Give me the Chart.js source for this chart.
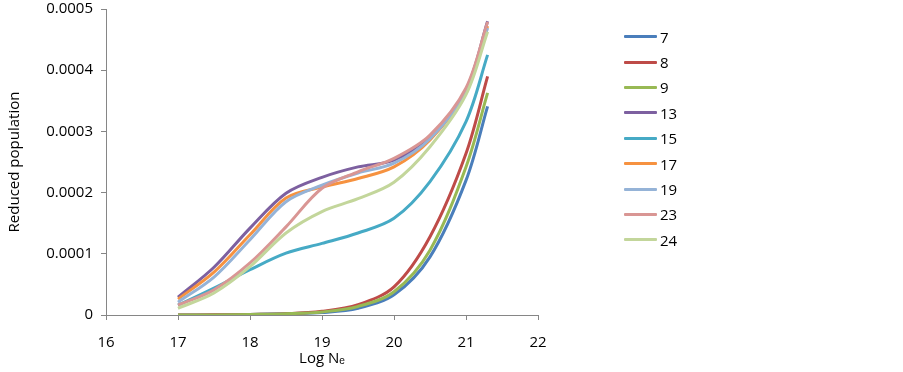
<!DOCTYPE html>
<html lang="en">
<head>
  <meta charset="UTF-8" />
  <title>Reduced population vs Log Ne</title>
  <style>
    body { margin: 0; background: #fff; font-family: "Open Sans", sans-serif; }
    #wrap { position: relative; width: 903px; height: 372px; }
    canvas { position: absolute; left: 0; top: 0; }
    #legend { position: absolute; left: 624px; top: 24px; }
    .item { height: 25.4px; display: flex; align-items: center; font-size: 15px; color: #000; }
    .swatch { width: 33px; height: 3px; margin-right: 3px; border-radius: 1px; }
  </style>
</head>
<body>
  <div id="wrap">
    <canvas id="chart" width="903" height="372"></canvas>
    <div id="legend"></div>
  </div>

  <script src="https://cdn.jsdelivr.net/npm/chart.js"></script>
  <script>
    const logNe = [17, 17.5, 18, 18.5, 19, 19.5, 20, 20.5, 21, 21.3];

    const names = ['7', '8', '9', '13', '15', '17', '19', '23', '24'];
    const colors = ['#4A7EBB', '#BE4B48', '#98B954', '#7D60A0', '#46AAC5', '#F69240', '#95B3D7', '#D99694', '#C3D69B'];

    const s7  = [0, 0, 0.000001, 0.000002, 0.000004, 0.000011, 0.000033, 0.000095, 0.00022, 0.000341];
    const s8  = [0, 0.0000003, 0.000001, 0.000002, 0.000006, 0.000017, 0.000046, 0.000128, 0.000264, 0.00039];
    const s9  = [0, 0.0000002, 0.000001, 0.000002, 0.000005, 0.000014, 0.000038, 0.000106, 0.000242, 0.000363];
    const s13 = [0.000029, 0.000078, 0.000142, 0.000199, 0.000225, 0.000242, 0.000253, 0.000291, 0.000368, 0.00048];
    const s15 = [0.000016, 0.000044, 0.000074, 0.000101, 0.000117, 0.000134, 0.000158, 0.000218, 0.000316, 0.000425];
    const s17 = [0.000026, 0.00007, 0.000131, 0.000191, 0.000209, 0.000223, 0.000242, 0.000286, 0.000365, 0.000472];
    const s19 = [0.000021, 0.000062, 0.000123, 0.000185, 0.000212, 0.000232, 0.000248, 0.000288, 0.000366, 0.000469];
    const s23 = [0.000016, 0.000041, 0.000085, 0.000144, 0.000207, 0.000234, 0.000256, 0.000294, 0.000371, 0.000479];
    const s24 = [0.000011, 0.000036, 0.000079, 0.000134, 0.000169, 0.00019, 0.000217, 0.000275, 0.00036, 0.000463];

    const series = [s7, s8, s9, s13, s15, s17, s19, s23, s24];

    const axisGray = '#868686';
    const font = { family: '"Open Sans", sans-serif', size: 15 };

    // later series on top, like the original
    const datasets = series.map((vals, i) => ({
      label: names[i],
      data: vals.map((v, j) => ({ x: logNe[j], y: v })),
      borderColor: colors[i],
      borderWidth: 3,
      pointRadius: 0,
      tension: 0.33,
      fill: false,
      order: series.length - i
    }));

    new Chart(document.getElementById('chart'), {
      type: 'line',
      data: { datasets },
      options: {
        responsive: false,
        animation: false,
        layout: { padding: { left: 0, right: 365, top: 0, bottom: 0 } },
        plugins: { legend: { display: false }, tooltip: { enabled: false } },
        scales: {
          x: {
            type: 'linear',
            min: 16, max: 22,
            ticks: { stepSize: 1, color: '#000', font, padding: 14 },
            grid: { drawOnChartArea: false, color: axisGray, tickLength: 5 },
            border: { color: axisGray },
            title: { display: true, text: 'Log N\u2091', color: '#000', font, padding: { top: 0, bottom: 4 } },
            afterFit: s => { s.height = 57; }
          },
          y: {
            min: 0, max: 0.0005,
            ticks: {
              stepSize: 0.0001, color: '#000', font, padding: 8,
              callback: v => v === 0 ? '0' : v.toFixed(4)
            },
            grid: { drawOnChartArea: false, color: axisGray, tickLength: 5 },
            border: { color: axisGray },
            title: { display: true, text: 'Reduced population', color: '#000', font, padding: { top: 6, bottom: 4 } },
            afterFit: s => { s.width = 106; s.paddingTop = 9; s.paddingBottom = 0; }
          }
        }
      }
    });

    const legend = document.getElementById('legend');
    names.forEach((n, i) => {
      const row = document.createElement('div');
      row.className = 'item';
      row.innerHTML = '<span class="swatch" style="background:' + colors[i] + '"></span><span>' + n + '</span>';
      legend.appendChild(row);
    });
  </script>
</body>
</html>
